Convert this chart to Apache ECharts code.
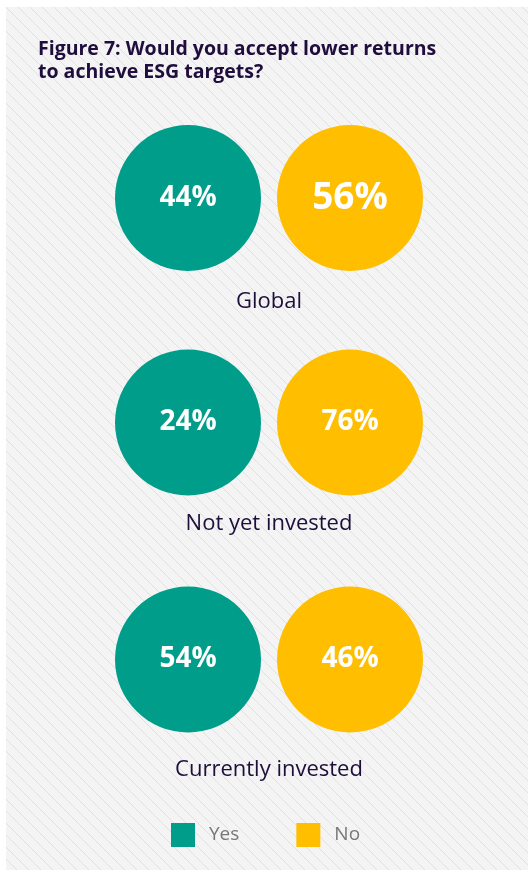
<!DOCTYPE html>
<html>
<head>
<meta charset="utf-8">
<script src="https://cdn.jsdelivr.net/npm/echarts@6/dist/echarts.min.js"></script>
<style>html,body{margin:0;padding:0;background:#fff;}#c{width:528px;height:872px;}</style>
</head>
<body>
<div id="c"></div>
<script>
const groups = ["Global", "Not yet invested", "Currently invested"];
const answers = ["Yes", "No"];
const yesValues = [44, 24, 54];
const noValues = [56, 76, 46];

const chart = echarts.init(document.getElementById('c'), null, {renderer: 'canvas'});

// hatch pattern
const tile = document.createElement('canvas');
tile.width = 12; tile.height = 12;
const ctx = tile.getContext('2d');
ctx.fillStyle = '#f4f4f4';
ctx.fillRect(0, 0, 12, 12);
ctx.strokeStyle = '#e0e0e0';
ctx.lineWidth = 1;
ctx.beginPath();
ctx.moveTo(-2, -2); ctx.lineTo(14, 14);
ctx.stroke();

const TEAL = '#009e8a';
const YELLOW = '#ffbe00';
const rowTops = [125, 349.5, 586.5];
const nameGaps = [20, 17, 26];
const FONT = '"Open Sans", Lato, sans-serif';

const grids = [], xAxes = [], yAxes = [], series = [];
groups.forEach((g, i) => {
  grids.push({left: 107, width: 324, top: rowTops[i], height: 146});
  xAxes.push({
    type: 'category', gridIndex: i, data: answers,
    axisLine: {show: false}, axisTick: {show: false}, axisLabel: {show: false},
    splitLine: {show: false},
    name: g, nameLocation: 'middle', nameGap: nameGaps[i],
    nameTextStyle: {color: '#1d0f3a', fontSize: 22, fontFamily: FONT}
  });
  yAxes.push({type: 'value', gridIndex: i, min: -1, max: 1, show: false});
  const mk = (name, val, color, big) => ({
    name: name, type: 'scatter', xAxisIndex: i, yAxisIndex: i,
    symbol: 'circle', symbolSize: 146,
    itemStyle: {color: color, opacity: 1},
    label: {
      show: true, position: 'inside', color: '#fff', fontWeight: 'bold',
      fontSize: big ? 37 : 28, fontFamily: FONT,
      formatter: p => p.value[2] + '%'
    },
    emphasis: {disabled: true},
    data: [[name, 0, val]]
  });
  series.push(mk('Yes', yesValues[i], TEAL, false));
  series.push(mk('No', noValues[i], YELLOW, i === 0));
});

chart.setOption({
  animation: false,
  backgroundColor: '#ffffff',
  graphic: [{
    type: 'rect', left: 6, top: 7, z: -10, silent: true,
    shape: {width: 522, height: 863},
    style: {fill: {image: tile, repeat: 'repeat'}}
  }],
  title: {
    text: 'Figure 7: Would you accept lower returns\nto achieve ESG targets?',
    left: 33, top: 33,
    textStyle: {color: '#1f0d3d', fontSize: 19.5, fontWeight: 'bold', lineHeight: 23, fontFamily: FONT}
  },
  legend: {
    data: answers, icon: 'rect', itemWidth: 24, itemHeight: 24,
    left: 166, top: 818, itemGap: 57,
    textStyle: {color: '#777777', fontSize: 19, fontFamily: FONT, padding: [0, 0, 0, 9]}
  },
  grid: grids, xAxis: xAxes, yAxis: yAxes, series: series
});
</script>
</body>
</html>
